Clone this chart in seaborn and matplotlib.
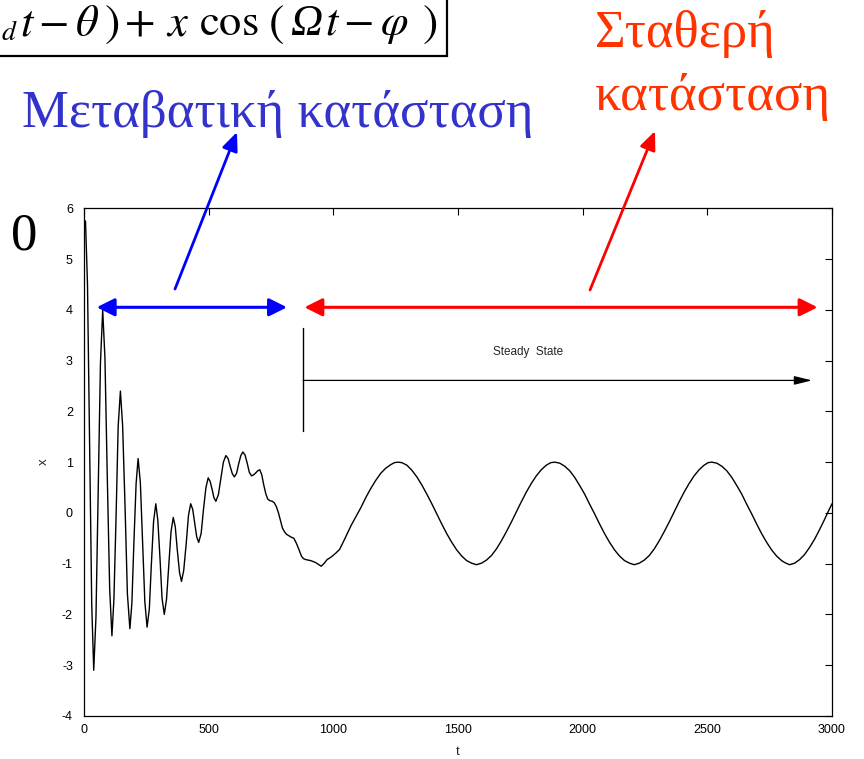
import numpy as np
import pandas as pd
import matplotlib
matplotlib.use("Agg")
import matplotlib.pyplot as plt
from matplotlib.patches import Rectangle
import seaborn as sns

# values: transient part (peaks, troughs and points between)
trans_t = [0, 6, 14, 23, 31, 39, 48, 57, 66, 75, 84, 93, 103, 112,
           120, 129, 137, 146, 155, 165, 174, 184, 192, 200, 209, 217,
           226, 235, 244, 253, 262, 270, 279, 288, 296, 305, 313, 322,
           331, 340, 349, 358, 366, 374, 383, 391, 400, 410, 419, 428,
           436, 444, 452, 460, 470, 479, 489, 498, 506, 514, 521, 529,
           539, 549, 559, 569, 578, 586, 595, 603, 612, 620, 629, 637,
           646, 655, 663, 672, 680, 689, 697, 705, 713, 721, 729, 737,
           746, 755, 763, 771, 780, 788, 796, 804, 812, 822, 832, 842,
           852, 862, 872, 880, 890, 900, 910, 920, 930, 942, 951, 962,
           975, 991, 1008, 1025, 1045, 1072]
trans_x = [5.6, 5.75, 4.5, 1.2, -1.8, -3.1, -2.05, 0.45, 2.95, 4.0, 3.05, 0.8, -1.5, -2.42,
           -1.7, 0.0, 1.7, 2.4, 1.71, 0.06, -1.59, -2.28, -1.78, -0.6, 0.58, 1.07,
           0.6, -0.6, -1.75, -2.25, -1.89, -1.03, -0.17, 0.18, -0.14, -0.91, -1.68, -2.0,
           -1.7, -1.05, -0.37, -0.09, -0.27, -0.72, -1.17, -1.35, -1.13, -0.6, -0.05, 0.18,
           0.07, -0.2, -0.47, -0.58, -0.4, 0.06, 0.5, 0.69, 0.62, 0.46, 0.3, 0.23,
           0.36, 0.68, 1.0, 1.13, 1.07, 0.92, 0.77, 0.71, 0.78, 0.96, 1.13, 1.2,
           1.14, 0.97, 0.8, 0.73, 0.75, 0.79, 0.83, 0.85, 0.75, 0.55, 0.38, 0.27,
           0.24, 0.23, 0.2, 0.13, 0.0, -0.15, -0.3, -0.37, -0.42, -0.45, -0.48, -0.5,
           -0.6, -0.72, -0.85, -0.9, -0.92, -0.93, -0.94, -0.96, -0.98, -1.02, -1.05, -1.0,
           -0.92, -0.87, -0.8, -0.72, -0.52, -0.24]

# steady state part
steady_t = [1090, 1110, 1130, 1150, 1170, 1190, 1210, 1230, 1245, 1259,
            1275, 1295, 1315, 1335, 1355, 1375, 1395, 1415, 1435, 1455, 1475, 1495, 1515, 1535, 1555, 1574,
            1594, 1614, 1634, 1654, 1674, 1694, 1714, 1734, 1754, 1774, 1794, 1814, 1834, 1854, 1872, 1888,
            1908, 1928, 1948, 1968, 1988, 2008, 2028, 2048, 2068, 2088, 2108, 2128, 2148, 2168, 2188, 2207,
            2227, 2247, 2267, 2287, 2307, 2327, 2347, 2367, 2387, 2407, 2427, 2447, 2467, 2487, 2503, 2518,
            2538, 2558, 2578, 2598, 2618, 2638, 2658, 2678, 2698, 2718, 2738, 2758, 2778, 2798, 2815, 2830,
            2850, 2870, 2890, 2910, 2930, 2950, 2970, 2985, 3000]
steady_x = [-0.08, 0.1, 0.3, 0.48, 0.64, 0.78, 0.88, 0.95, 0.99, 1.0,
            0.99, 0.94, 0.84, 0.71, 0.55, 0.37, 0.18, -0.02, -0.22, -0.41, -0.58, -0.73, -0.85, -0.94, -0.99, -1.02,
            -0.99, -0.93, -0.84, -0.71, -0.55, -0.37, -0.18, 0.02, 0.22, 0.41, 0.58, 0.73, 0.85, 0.94, 0.99, 1.0,
            0.98, 0.92, 0.83, 0.70, 0.54, 0.37, 0.17, -0.02, -0.22, -0.41, -0.58, -0.73, -0.85, -0.94, -0.99, -1.02,
            -0.99, -0.93, -0.84, -0.71, -0.55, -0.37, -0.18, 0.02, 0.22, 0.41, 0.58, 0.73, 0.85, 0.94, 0.99, 1.0,
            0.98, 0.92, 0.83, 0.70, 0.54, 0.37, 0.17, -0.02, -0.22, -0.41, -0.58, -0.73, -0.85, -0.94, -0.99, -1.02,
            -0.99, -0.92, -0.82, -0.68, -0.52, -0.33, -0.13, 0.03, 0.18]

x_ticks = [0, 500, 1000, 1500, 2000, 2500, 3000]
y_ticks = [-4, -3, -2, -1, 0, 1, 2, 3, 4, 5, 6]

transient_label = "Μεταβατική κατάσταση"
steady_lines = ["Σταθερή", "κατάσταση"]

df = pd.DataFrame({"t": trans_t + steady_t, "x": trans_x + steady_x})

sns.set_style("white")
plt.rcParams['font.family'] = ['Liberation Sans', 'DejaVu Sans']
plt.rcParams['axes.unicode_minus'] = False
plt.rcParams['mathtext.fontset'] = 'stix'

fig = plt.figure(figsize=(8.64, 7.59), dpi=100)
ax = fig.add_axes([84/864, 1 - 716/759, 748/864, (716 - 208.3)/759])

sns.lineplot(data=df, x="t", y="x", sort=False, estimator=None,
             color="black", linewidth=1.0, ax=ax)

ax.set_xlim(0, 3000)
ax.set_ylim(-4, 6)
ax.set_xticks(x_ticks)
ax.set_yticks(y_ticks)
ax.tick_params(direction='in', length=5, width=0.8, top=True, right=True,
               labelsize=9, colors='black')
ax.tick_params(axis='x', pad=6)
ax.tick_params(axis='y', pad=8)
for s in ax.spines.values():
    s.set_color('black')
    s.set_linewidth(0.9)
ax.set_xlabel("t", fontsize=9.5, labelpad=7)
ax.set_ylabel("x", fontsize=9.5, labelpad=9)

# blue / red range arrows
ax.annotate("", xy=(51, 4.05), xytext=(814, 4.05), annotation_clip=False,
            arrowprops=dict(arrowstyle='<|-|>,head_length=0.6,head_width=0.3',
                            mutation_scale=18, color='#0000FF', lw=2.2,
                            shrinkA=0, shrinkB=0))
ax.annotate("", xy=(884, 4.05), xytext=(2942, 4.05), annotation_clip=False,
            arrowprops=dict(arrowstyle='<|-|>,head_length=0.6,head_width=0.3',
                            mutation_scale=18, color='#FF0000', lw=2.2,
                            shrinkA=0, shrinkB=0))

# steady state marker
ax.plot([879, 879], [1.62, 3.64], color='black', lw=1.0)
ax.annotate("", xy=(2920, 2.61), xytext=(879, 2.61),
            arrowprops=dict(arrowstyle='-|>,head_length=0.9,head_width=0.22',
                            mutation_scale=12, color='black', lw=0.9,
                            shrinkA=0, shrinkB=0))
ax.text(1783, 3.16, "Steady  State", ha='center', va='center', fontsize=8.5)

# pointers to the Greek labels (figure pixels)
W, H = 864, 759
def fp(px, py):
    return (px / W, 1 - py / H)

ax.annotate("", xy=fp(237, 132), xytext=fp(175, 289), xycoords='figure fraction',
            textcoords='figure fraction', annotation_clip=False,
            arrowprops=dict(arrowstyle='-|>,head_length=0.7,head_width=0.3',
                            mutation_scale=16, color='#0000FF', lw=2.0,
                            shrinkA=0, shrinkB=0))
ax.annotate("", xy=fp(655, 131), xytext=fp(590, 290), xycoords='figure fraction',
            textcoords='figure fraction', annotation_clip=False,
            arrowprops=dict(arrowstyle='-|>,head_length=0.7,head_width=0.3',
                            mutation_scale=16, color='#FF0000', lw=2.0,
                            shrinkA=0, shrinkB=0))

serif = ['Liberation Serif', 'DejaVu Serif']
fig.text(*fp(278, 127), transient_label, ha='center', va='baseline',
         fontsize=38, color='#3333CC', family=serif)
fig.text(*fp(595, 47), steady_lines[0], ha='left', va='baseline',
         fontsize=38, color='#FF3300', family=serif)
fig.text(*fp(595, 110), steady_lines[1], ha='left', va='baseline',
         fontsize=38, color='#FF3300', family=serif)
fig.text(*fp(24, 236), "0", ha='center', va='center', fontsize=38,
         color='black', family=serif)

# cut-off formula in a box at the top (only its right part is on the page)
pieces = [(r'$d$', 1, 40, 20), (r'$t-\theta$', 20, 35, 32), (r'$)$', 104, 36, 33),
          (r'$+$', 124, 35, 32), (r'$x$', 166, 35, 32), (r'$\cos$', 199, 35, 32),
          (r'$($', 268, 36, 33), (r'$t-\varphi$', 325, 35, 32),
          (r'$)$', 422, 36, 33)]
for s, px, py, size in pieces:
    fig.text(*fp(px, py), s, ha='left', va='baseline', fontsize=size, color='black')
fig.text(*fp(290, 35), "Ω", ha='left', va='baseline', fontsize=32, color='black',
         family=serif, style='italic')
fig.add_artist(Rectangle(fp(-10, 56), 457 / W, 70 / H, transform=fig.transFigure,
                         fill=False, edgecolor='black', lw=1.6))

fig.savefig("out.png", dpi=100)
